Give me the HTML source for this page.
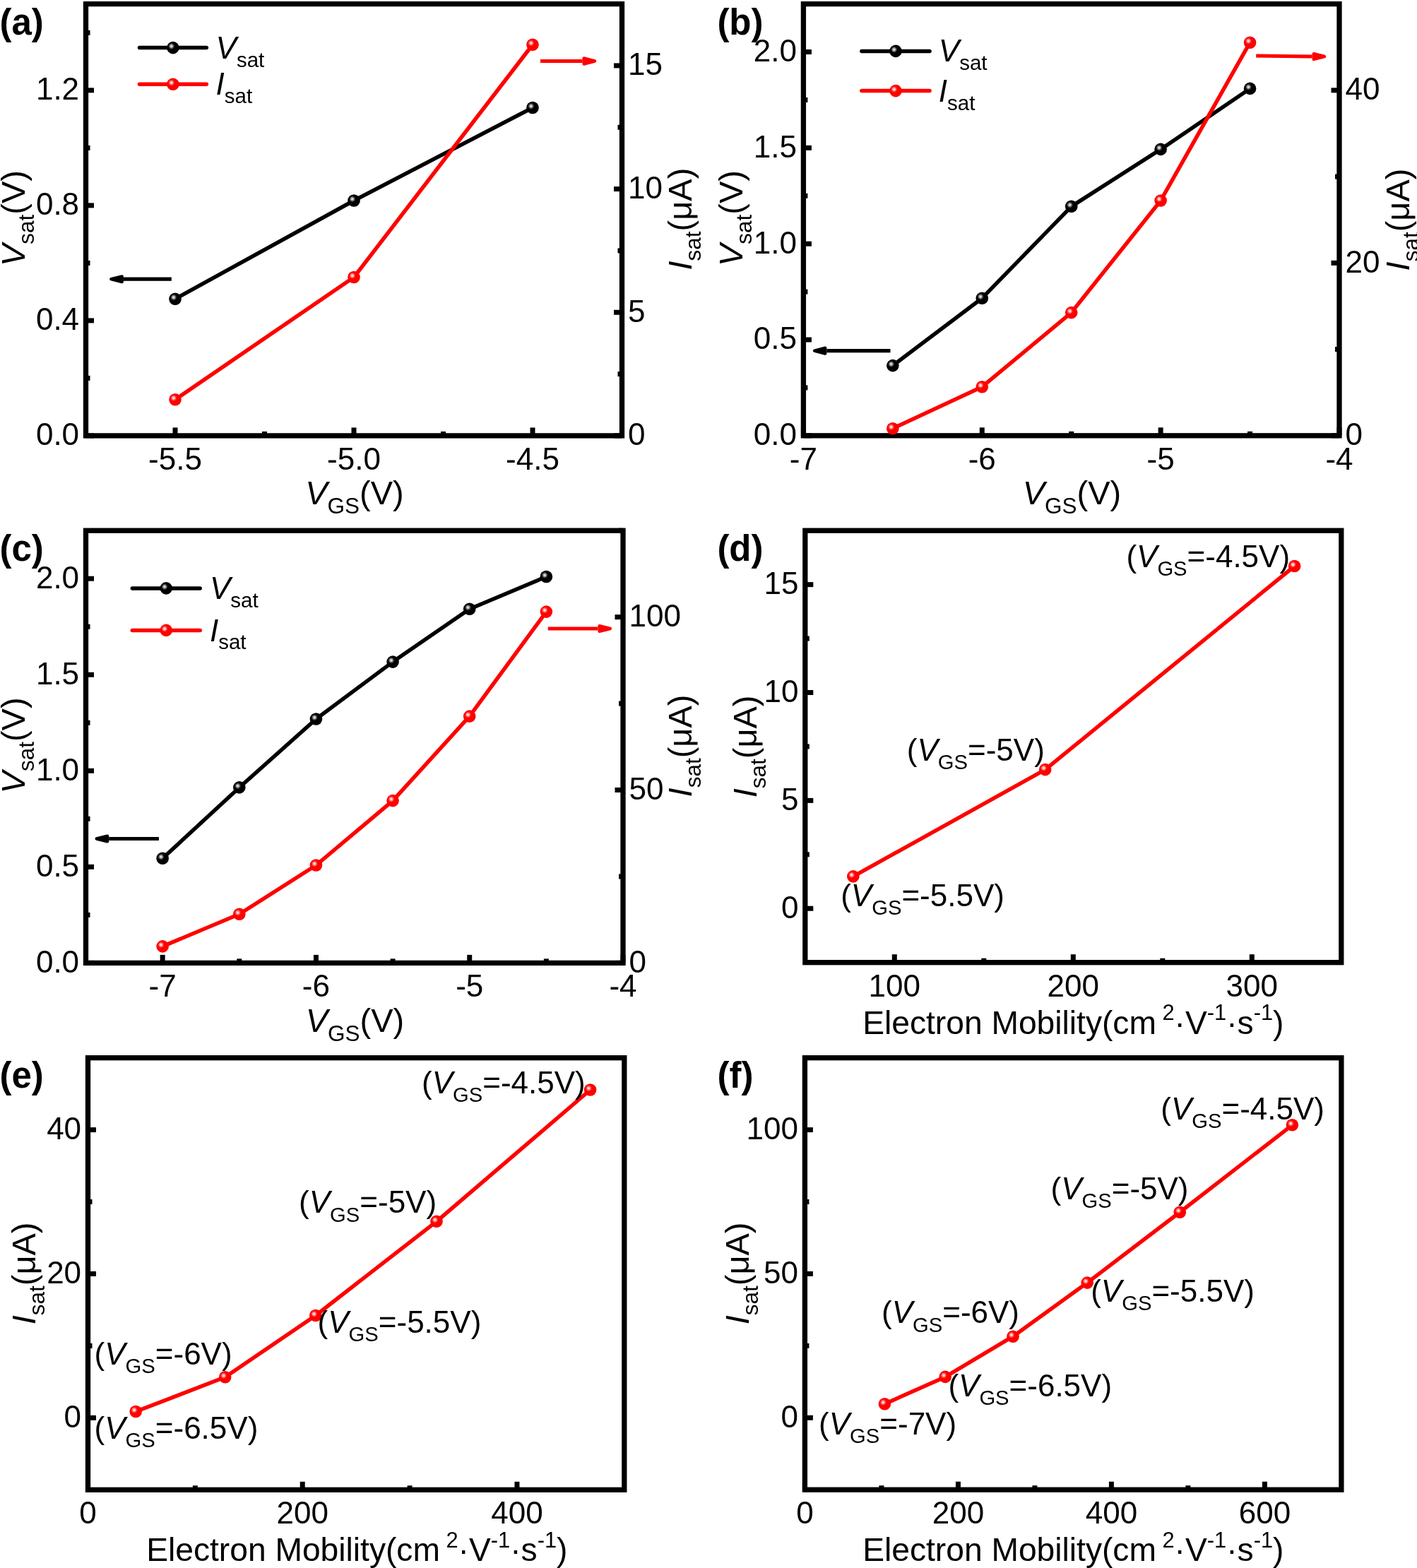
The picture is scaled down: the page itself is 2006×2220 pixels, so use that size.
<!DOCTYPE html><html><head><meta charset="utf-8"><title>Figure</title><style>html,body{margin:0;padding:0;background:#fff;}svg{display:block;}</style></head><body>
<svg width="2006" height="2220" viewBox="0 0 2006 2220" font-family="'Liberation Sans', Arial, sans-serif">
<defs>
<radialGradient id="hk"><stop offset="0" stop-color="#fafafa"/><stop offset="0.15" stop-color="#e0e0e0"/><stop offset="0.45" stop-color="#9a9a9a" stop-opacity="0.9"/><stop offset="0.75" stop-color="#444" stop-opacity="0.5"/><stop offset="1" stop-color="#000" stop-opacity="0"/></radialGradient>
<radialGradient id="hr"><stop offset="0" stop-color="#fff"/><stop offset="0.15" stop-color="#ffe4e4"/><stop offset="0.45" stop-color="#ff9a9a" stop-opacity="0.9"/><stop offset="0.75" stop-color="#ff4040" stop-opacity="0.5"/><stop offset="1" stop-color="#f00" stop-opacity="0"/></radialGradient>
</defs>
<rect width="2006" height="2220" fill="#fff"/>
<line x1="248" y1="616.9" x2="248" y2="605.4" stroke="#000" stroke-width="7.0"/>
<line x1="501" y1="616.9" x2="501" y2="605.4" stroke="#000" stroke-width="7.0"/>
<line x1="754" y1="616.9" x2="754" y2="605.4" stroke="#000" stroke-width="7.0"/>
<line x1="374.5" y1="616.9" x2="374.5" y2="610.9" stroke="#000" stroke-width="7.0"/>
<line x1="627.5" y1="616.9" x2="627.5" y2="610.9" stroke="#000" stroke-width="7.0"/>
<line x1="121.5" y1="616.9" x2="133" y2="616.9" stroke="#000" stroke-width="7.0"/>
<line x1="121.5" y1="453.89" x2="133" y2="453.89" stroke="#000" stroke-width="7.0"/>
<line x1="121.5" y1="290.87" x2="133" y2="290.87" stroke="#000" stroke-width="7.0"/>
<line x1="121.5" y1="127.86" x2="133" y2="127.86" stroke="#000" stroke-width="7.0"/>
<line x1="121.5" y1="535.39" x2="127.5" y2="535.39" stroke="#000" stroke-width="7.0"/>
<line x1="121.5" y1="372.38" x2="127.5" y2="372.38" stroke="#000" stroke-width="7.0"/>
<line x1="121.5" y1="209.37" x2="127.5" y2="209.37" stroke="#000" stroke-width="7.0"/>
<line x1="121.5" y1="46.35" x2="127.5" y2="46.35" stroke="#000" stroke-width="7.0"/>
<line x1="880.5" y1="616.9" x2="869" y2="616.9" stroke="#000" stroke-width="7.0"/>
<line x1="880.5" y1="442.24" x2="869" y2="442.24" stroke="#000" stroke-width="7.0"/>
<line x1="880.5" y1="267.59" x2="869" y2="267.59" stroke="#000" stroke-width="7.0"/>
<line x1="880.5" y1="92.93" x2="869" y2="92.93" stroke="#000" stroke-width="7.0"/>
<line x1="880.5" y1="529.57" x2="874.5" y2="529.57" stroke="#000" stroke-width="7.0"/>
<line x1="880.5" y1="354.91" x2="874.5" y2="354.91" stroke="#000" stroke-width="7.0"/>
<line x1="880.5" y1="180.26" x2="874.5" y2="180.26" stroke="#000" stroke-width="7.0"/>
<rect x="121.5" y="5.6" width="759" height="611.3" fill="none" stroke="#000" stroke-width="7.3"/>
<text x="112.1" y="630.4" font-size="44" text-anchor="end">0.0</text>
<text x="112.1" y="467.39" font-size="44" text-anchor="end">0.4</text>
<text x="112.1" y="304.37" font-size="44" text-anchor="end">0.8</text>
<text x="112.1" y="141.36" font-size="44" text-anchor="end">1.2</text>
<text x="889" y="630.4" font-size="44" text-anchor="start">0</text>
<text x="889" y="455.74" font-size="44" text-anchor="start">5</text>
<text x="889" y="281.09" font-size="44" text-anchor="start">10</text>
<text x="889" y="106.43" font-size="44" text-anchor="start">15</text>
<text x="248" y="664.9" font-size="44" text-anchor="middle">-5.5</text>
<text x="501" y="664.9" font-size="44" text-anchor="middle">-5.0</text>
<text x="754" y="664.9" font-size="44" text-anchor="middle">-4.5</text>
<polyline points="248,423.2 501,284 754,152.5" fill="none" stroke="#000" stroke-width="5.5" stroke-linejoin="round" stroke-linecap="round"/>
<circle cx="248" cy="423.2" r="8.8" fill="#000"/>
<circle cx="245.8" cy="421" r="5.2" fill="url(#hk)"/>
<circle cx="501" cy="284" r="8.8" fill="#000"/>
<circle cx="498.8" cy="281.8" r="5.2" fill="url(#hk)"/>
<circle cx="754" cy="152.5" r="8.8" fill="#000"/>
<circle cx="751.8" cy="150.3" r="5.2" fill="url(#hk)"/>
<polyline points="248,565.7 501,392.5 754,63.2" fill="none" stroke="#ff0000" stroke-width="5.5" stroke-linejoin="round" stroke-linecap="round"/>
<circle cx="248" cy="565.7" r="8.8" fill="#ff0000"/>
<circle cx="245.8" cy="563.5" r="5.2" fill="url(#hr)"/>
<circle cx="501" cy="392.5" r="8.8" fill="#ff0000"/>
<circle cx="498.8" cy="390.3" r="5.2" fill="url(#hr)"/>
<circle cx="754" cy="63.2" r="8.8" fill="#ff0000"/>
<circle cx="751.8" cy="61" r="5.2" fill="url(#hr)"/>
<line x1="197.5" y1="67.6" x2="292.3" y2="67.6" stroke="#000" stroke-width="5.5" stroke-linecap="round"/>
<circle cx="244.9" cy="67.6" r="8.8" fill="#000"/>
<circle cx="242.7" cy="65.4" r="5.2" fill="url(#hk)"/>
<text x="305.6" y="82.9" font-size="44" text-anchor="start"><tspan font-style="italic">V</tspan><tspan font-size="29.5" dy="11.8">sat</tspan><tspan dy="-11.8"></tspan></text>
<line x1="197.5" y1="119.3" x2="292.3" y2="119.3" stroke="#ff0000" stroke-width="5.5" stroke-linecap="round"/>
<circle cx="244.9" cy="119.3" r="8.8" fill="#ff0000"/>
<circle cx="242.7" cy="117.1" r="5.2" fill="url(#hr)"/>
<text x="305.6" y="134.2" font-size="44" text-anchor="start"><tspan font-style="italic">I</tspan><tspan font-size="29.5" dy="11.8">sat</tspan><tspan dy="-11.8"></tspan></text>
<line x1="242.8" y1="395.2" x2="174.9" y2="395.2" stroke="#000" stroke-width="5.2"/>
<polygon points="157.33,395.2 172.7,391.4 172.7,399" fill="#000" stroke="#000" stroke-width="4.4" stroke-linejoin="round"/>
<line x1="765" y1="86.5" x2="824.4" y2="86.5" stroke="#ff0000" stroke-width="5.2"/>
<polygon points="841.97,86.5 826.6,90.5 826.6,82.5" fill="#ff0000" stroke="#ff0000" stroke-width="4.4" stroke-linejoin="round"/>
<text x="502" y="714.4" font-size="47" text-anchor="middle"><tspan font-style="italic">V</tspan><tspan font-size="31.5" dy="13">GS</tspan><tspan dy="-13">(V)</tspan></text>
<text transform="translate(34.9,309) rotate(-90)" font-size="47" text-anchor="middle"><tspan font-style="italic">V</tspan><tspan font-size="31.5" dy="13">sat</tspan><tspan dy="-13">(V)</tspan></text>
<text transform="translate(978.9,310.1) rotate(-90)" font-size="47" text-anchor="middle"><tspan font-style="italic">I</tspan><tspan font-size="31.5" dy="13">sat</tspan><tspan dy="-13">(μA)</tspan></text>
<text x="-0.5" y="49.4" font-size="51" font-weight="bold">(a)</text>
<line x1="1137.4" y1="616.8" x2="1137.4" y2="605.3" stroke="#000" stroke-width="7.0"/>
<line x1="1390.27" y1="616.8" x2="1390.27" y2="605.3" stroke="#000" stroke-width="7.0"/>
<line x1="1643.13" y1="616.8" x2="1643.13" y2="605.3" stroke="#000" stroke-width="7.0"/>
<line x1="1896" y1="616.8" x2="1896" y2="605.3" stroke="#000" stroke-width="7.0"/>
<line x1="1263.83" y1="616.8" x2="1263.83" y2="610.8" stroke="#000" stroke-width="7.0"/>
<line x1="1516.7" y1="616.8" x2="1516.7" y2="610.8" stroke="#000" stroke-width="7.0"/>
<line x1="1769.57" y1="616.8" x2="1769.57" y2="610.8" stroke="#000" stroke-width="7.0"/>
<line x1="1137.4" y1="616.8" x2="1148.9" y2="616.8" stroke="#000" stroke-width="7.0"/>
<line x1="1137.4" y1="480.98" x2="1148.9" y2="480.98" stroke="#000" stroke-width="7.0"/>
<line x1="1137.4" y1="345.16" x2="1148.9" y2="345.16" stroke="#000" stroke-width="7.0"/>
<line x1="1137.4" y1="209.33" x2="1148.9" y2="209.33" stroke="#000" stroke-width="7.0"/>
<line x1="1137.4" y1="73.51" x2="1148.9" y2="73.51" stroke="#000" stroke-width="7.0"/>
<line x1="1137.4" y1="548.89" x2="1143.4" y2="548.89" stroke="#000" stroke-width="7.0"/>
<line x1="1137.4" y1="413.07" x2="1143.4" y2="413.07" stroke="#000" stroke-width="7.0"/>
<line x1="1137.4" y1="277.24" x2="1143.4" y2="277.24" stroke="#000" stroke-width="7.0"/>
<line x1="1137.4" y1="141.42" x2="1143.4" y2="141.42" stroke="#000" stroke-width="7.0"/>
<line x1="1896" y1="616.8" x2="1884.5" y2="616.8" stroke="#000" stroke-width="7.0"/>
<line x1="1896" y1="372.32" x2="1884.5" y2="372.32" stroke="#000" stroke-width="7.0"/>
<line x1="1896" y1="127.84" x2="1884.5" y2="127.84" stroke="#000" stroke-width="7.0"/>
<line x1="1896" y1="494.56" x2="1890" y2="494.56" stroke="#000" stroke-width="7.0"/>
<line x1="1896" y1="250.08" x2="1890" y2="250.08" stroke="#000" stroke-width="7.0"/>
<line x1="1896" y1="5.6" x2="1890" y2="5.6" stroke="#000" stroke-width="7.0"/>
<rect x="1137.4" y="5.6" width="758.6" height="611.2" fill="none" stroke="#000" stroke-width="7.3"/>
<text x="1128" y="630.3" font-size="44" text-anchor="end">0.0</text>
<text x="1128" y="494.48" font-size="44" text-anchor="end">0.5</text>
<text x="1128" y="358.66" font-size="44" text-anchor="end">1.0</text>
<text x="1128" y="222.83" font-size="44" text-anchor="end">1.5</text>
<text x="1128" y="87.01" font-size="44" text-anchor="end">2.0</text>
<text x="1904.5" y="630.3" font-size="44" text-anchor="start">0</text>
<text x="1904.5" y="385.82" font-size="44" text-anchor="start">20</text>
<text x="1904.5" y="141.34" font-size="44" text-anchor="start">40</text>
<text x="1137.4" y="664.8" font-size="44" text-anchor="middle">-7</text>
<text x="1390.27" y="664.8" font-size="44" text-anchor="middle">-6</text>
<text x="1643.13" y="664.8" font-size="44" text-anchor="middle">-5</text>
<text x="1896" y="664.8" font-size="44" text-anchor="middle">-4</text>
<polyline points="1263.83,517.6 1390.27,422.2 1516.7,292.3 1643.13,211.4 1769.57,125.4" fill="none" stroke="#000" stroke-width="5.5" stroke-linejoin="round" stroke-linecap="round"/>
<circle cx="1263.83" cy="517.6" r="8.8" fill="#000"/>
<circle cx="1261.63" cy="515.4" r="5.2" fill="url(#hk)"/>
<circle cx="1390.27" cy="422.2" r="8.8" fill="#000"/>
<circle cx="1388.07" cy="420" r="5.2" fill="url(#hk)"/>
<circle cx="1516.7" cy="292.3" r="8.8" fill="#000"/>
<circle cx="1514.5" cy="290.1" r="5.2" fill="url(#hk)"/>
<circle cx="1643.13" cy="211.4" r="8.8" fill="#000"/>
<circle cx="1640.93" cy="209.2" r="5.2" fill="url(#hk)"/>
<circle cx="1769.57" cy="125.4" r="8.8" fill="#000"/>
<circle cx="1767.37" cy="123.2" r="5.2" fill="url(#hk)"/>
<polyline points="1263.83,606.7 1390.27,547.7 1516.7,442.6 1643.13,284 1769.57,60.2" fill="none" stroke="#ff0000" stroke-width="5.5" stroke-linejoin="round" stroke-linecap="round"/>
<circle cx="1263.83" cy="606.7" r="8.8" fill="#ff0000"/>
<circle cx="1261.63" cy="604.5" r="5.2" fill="url(#hr)"/>
<circle cx="1390.27" cy="547.7" r="8.8" fill="#ff0000"/>
<circle cx="1388.07" cy="545.5" r="5.2" fill="url(#hr)"/>
<circle cx="1516.7" cy="442.6" r="8.8" fill="#ff0000"/>
<circle cx="1514.5" cy="440.4" r="5.2" fill="url(#hr)"/>
<circle cx="1643.13" cy="284" r="8.8" fill="#ff0000"/>
<circle cx="1640.93" cy="281.8" r="5.2" fill="url(#hr)"/>
<circle cx="1769.57" cy="60.2" r="8.8" fill="#ff0000"/>
<circle cx="1767.37" cy="58" r="5.2" fill="url(#hr)"/>
<line x1="1219.9" y1="72.4" x2="1316" y2="72.4" stroke="#000" stroke-width="5.5" stroke-linecap="round"/>
<circle cx="1267.95" cy="72.4" r="8.8" fill="#000"/>
<circle cx="1265.75" cy="70.2" r="5.2" fill="url(#hk)"/>
<text x="1328.8" y="87.3" font-size="44" text-anchor="start"><tspan font-style="italic">V</tspan><tspan font-size="29.5" dy="11.8">sat</tspan><tspan dy="-11.8"></tspan></text>
<line x1="1219.9" y1="128.6" x2="1316" y2="128.6" stroke="#ff0000" stroke-width="5.5" stroke-linecap="round"/>
<circle cx="1267.95" cy="128.6" r="8.8" fill="#ff0000"/>
<circle cx="1265.75" cy="126.4" r="5.2" fill="url(#hr)"/>
<text x="1328.8" y="143.9" font-size="44" text-anchor="start"><tspan font-style="italic">I</tspan><tspan font-size="29.5" dy="11.8">sat</tspan><tspan dy="-11.8"></tspan></text>
<line x1="1260.5" y1="496.6" x2="1170.4" y2="496.6" stroke="#000" stroke-width="5.2"/>
<polygon points="1153.13,496.6 1168.2,492.7 1168.2,500.5" fill="#000" stroke="#000" stroke-width="4.4" stroke-linejoin="round"/>
<line x1="1778.2" y1="79" x2="1857.6" y2="80" stroke="#ff0000" stroke-width="5.2"/>
<polygon points="1875.07,80 1859.8,83.9 1859.8,76.1" fill="#ff0000" stroke="#ff0000" stroke-width="4.4" stroke-linejoin="round"/>
<text x="1517.5" y="714.4" font-size="47" text-anchor="middle"><tspan font-style="italic">V</tspan><tspan font-size="31.5" dy="13">GS</tspan><tspan dy="-13">(V)</tspan></text>
<text transform="translate(1050.8,309) rotate(-90)" font-size="47" text-anchor="middle"><tspan font-style="italic">V</tspan><tspan font-size="31.5" dy="13">sat</tspan><tspan dy="-13">(V)</tspan></text>
<text transform="translate(1995,311) rotate(-90)" font-size="47" text-anchor="middle"><tspan font-style="italic">I</tspan><tspan font-size="31.5" dy="13">sat</tspan><tspan dy="-13">(μA)</tspan></text>
<text x="1015.4" y="48.7" font-size="51" font-weight="bold">(b)</text>
<line x1="230.14" y1="1363.4" x2="230.14" y2="1351.9" stroke="#000" stroke-width="7.0"/>
<line x1="447.43" y1="1363.4" x2="447.43" y2="1351.9" stroke="#000" stroke-width="7.0"/>
<line x1="664.71" y1="1363.4" x2="664.71" y2="1351.9" stroke="#000" stroke-width="7.0"/>
<line x1="882" y1="1363.4" x2="882" y2="1351.9" stroke="#000" stroke-width="7.0"/>
<line x1="338.79" y1="1363.4" x2="338.79" y2="1357.4" stroke="#000" stroke-width="7.0"/>
<line x1="556.07" y1="1363.4" x2="556.07" y2="1357.4" stroke="#000" stroke-width="7.0"/>
<line x1="773.36" y1="1363.4" x2="773.36" y2="1357.4" stroke="#000" stroke-width="7.0"/>
<line x1="121.5" y1="1363.4" x2="133" y2="1363.4" stroke="#000" stroke-width="7.0"/>
<line x1="121.5" y1="1227.36" x2="133" y2="1227.36" stroke="#000" stroke-width="7.0"/>
<line x1="121.5" y1="1091.31" x2="133" y2="1091.31" stroke="#000" stroke-width="7.0"/>
<line x1="121.5" y1="955.27" x2="133" y2="955.27" stroke="#000" stroke-width="7.0"/>
<line x1="121.5" y1="819.22" x2="133" y2="819.22" stroke="#000" stroke-width="7.0"/>
<line x1="121.5" y1="1295.38" x2="127.5" y2="1295.38" stroke="#000" stroke-width="7.0"/>
<line x1="121.5" y1="1159.33" x2="127.5" y2="1159.33" stroke="#000" stroke-width="7.0"/>
<line x1="121.5" y1="1023.29" x2="127.5" y2="1023.29" stroke="#000" stroke-width="7.0"/>
<line x1="121.5" y1="887.24" x2="127.5" y2="887.24" stroke="#000" stroke-width="7.0"/>
<line x1="882" y1="1363.4" x2="870.5" y2="1363.4" stroke="#000" stroke-width="7.0"/>
<line x1="882" y1="1118.52" x2="870.5" y2="1118.52" stroke="#000" stroke-width="7.0"/>
<line x1="882" y1="873.64" x2="870.5" y2="873.64" stroke="#000" stroke-width="7.0"/>
<line x1="882" y1="1240.96" x2="876" y2="1240.96" stroke="#000" stroke-width="7.0"/>
<line x1="882" y1="996.08" x2="876" y2="996.08" stroke="#000" stroke-width="7.0"/>
<line x1="882" y1="751.2" x2="876" y2="751.2" stroke="#000" stroke-width="7.0"/>
<rect x="121.5" y="751.2" width="760.5" height="612.2" fill="none" stroke="#000" stroke-width="7.3"/>
<text x="112.1" y="1376.9" font-size="44" text-anchor="end">0.0</text>
<text x="112.1" y="1240.86" font-size="44" text-anchor="end">0.5</text>
<text x="112.1" y="1104.81" font-size="44" text-anchor="end">1.0</text>
<text x="112.1" y="968.77" font-size="44" text-anchor="end">1.5</text>
<text x="112.1" y="832.72" font-size="44" text-anchor="end">2.0</text>
<text x="890.5" y="1376.9" font-size="44" text-anchor="start">0</text>
<text x="890.5" y="1132.02" font-size="44" text-anchor="start">50</text>
<text x="890.5" y="887.14" font-size="44" text-anchor="start">100</text>
<text x="230.14" y="1411.4" font-size="44" text-anchor="middle">-7</text>
<text x="447.43" y="1411.4" font-size="44" text-anchor="middle">-6</text>
<text x="664.71" y="1411.4" font-size="44" text-anchor="middle">-5</text>
<text x="882" y="1411.4" font-size="44" text-anchor="middle">-4</text>
<polyline points="230.14,1215.3 338.79,1114.9 447.43,1018 556.07,937.1 664.71,862.2 773.36,816.5" fill="none" stroke="#000" stroke-width="5.5" stroke-linejoin="round" stroke-linecap="round"/>
<circle cx="230.14" cy="1215.3" r="8.8" fill="#000"/>
<circle cx="227.94" cy="1213.1" r="5.2" fill="url(#hk)"/>
<circle cx="338.79" cy="1114.9" r="8.8" fill="#000"/>
<circle cx="336.59" cy="1112.7" r="5.2" fill="url(#hk)"/>
<circle cx="447.43" cy="1018" r="8.8" fill="#000"/>
<circle cx="445.23" cy="1015.8" r="5.2" fill="url(#hk)"/>
<circle cx="556.07" cy="937.1" r="8.8" fill="#000"/>
<circle cx="553.87" cy="934.9" r="5.2" fill="url(#hk)"/>
<circle cx="664.71" cy="862.2" r="8.8" fill="#000"/>
<circle cx="662.51" cy="860" r="5.2" fill="url(#hk)"/>
<circle cx="773.36" cy="816.5" r="8.8" fill="#000"/>
<circle cx="771.16" cy="814.3" r="5.2" fill="url(#hk)"/>
<polyline points="230.14,1339.9 338.79,1294.3 447.43,1225 556.07,1133.6 664.71,1014.1 773.36,866.1" fill="none" stroke="#ff0000" stroke-width="5.5" stroke-linejoin="round" stroke-linecap="round"/>
<circle cx="230.14" cy="1339.9" r="8.8" fill="#ff0000"/>
<circle cx="227.94" cy="1337.7" r="5.2" fill="url(#hr)"/>
<circle cx="338.79" cy="1294.3" r="8.8" fill="#ff0000"/>
<circle cx="336.59" cy="1292.1" r="5.2" fill="url(#hr)"/>
<circle cx="447.43" cy="1225" r="8.8" fill="#ff0000"/>
<circle cx="445.23" cy="1222.8" r="5.2" fill="url(#hr)"/>
<circle cx="556.07" cy="1133.6" r="8.8" fill="#ff0000"/>
<circle cx="553.87" cy="1131.4" r="5.2" fill="url(#hr)"/>
<circle cx="664.71" cy="1014.1" r="8.8" fill="#ff0000"/>
<circle cx="662.51" cy="1011.9" r="5.2" fill="url(#hr)"/>
<circle cx="773.36" cy="866.1" r="8.8" fill="#ff0000"/>
<circle cx="771.16" cy="863.9" r="5.2" fill="url(#hr)"/>
<line x1="187.3" y1="832.9" x2="283.2" y2="832.9" stroke="#000" stroke-width="5.5" stroke-linecap="round"/>
<circle cx="235.25" cy="832.9" r="8.8" fill="#000"/>
<circle cx="233.05" cy="830.7" r="5.2" fill="url(#hk)"/>
<text x="296.9" y="848.3" font-size="44" text-anchor="start"><tspan font-style="italic">V</tspan><tspan font-size="29.5" dy="11.8">sat</tspan><tspan dy="-11.8"></tspan></text>
<line x1="187.3" y1="892.4" x2="283.2" y2="892.4" stroke="#ff0000" stroke-width="5.5" stroke-linecap="round"/>
<circle cx="235.25" cy="892.4" r="8.8" fill="#ff0000"/>
<circle cx="233.05" cy="890.2" r="5.2" fill="url(#hr)"/>
<text x="296.9" y="907.6" font-size="44" text-anchor="start"><tspan font-style="italic">I</tspan><tspan font-size="29.5" dy="11.8">sat</tspan><tspan dy="-11.8"></tspan></text>
<line x1="224.9" y1="1187.5" x2="154.2" y2="1187.5" stroke="#000" stroke-width="5.2"/>
<polygon points="136.73,1187.5 152,1183.7 152,1191.3" fill="#000" stroke="#000" stroke-width="4.4" stroke-linejoin="round"/>
<line x1="775.8" y1="890" x2="846.4" y2="890" stroke="#ff0000" stroke-width="5.2"/>
<polygon points="863.87,890 848.6,893.8 848.6,886.2" fill="#ff0000" stroke="#ff0000" stroke-width="4.4" stroke-linejoin="round"/>
<text x="502.5" y="1460.9" font-size="47" text-anchor="middle"><tspan font-style="italic">V</tspan><tspan font-size="31.5" dy="13">GS</tspan><tspan dy="-13">(V)</tspan></text>
<text transform="translate(34.9,1055.4) rotate(-90)" font-size="47" text-anchor="middle"><tspan font-style="italic">V</tspan><tspan font-size="31.5" dy="13">sat</tspan><tspan dy="-13">(V)</tspan></text>
<text transform="translate(978.9,1056) rotate(-90)" font-size="47" text-anchor="middle"><tspan font-style="italic">I</tspan><tspan font-size="31.5" dy="13">sat</tspan><tspan dy="-13">(μA)</tspan></text>
<text x="-0.5" y="794.2" font-size="51" font-weight="bold">(c)</text>
<line x1="1266.3" y1="1362.7" x2="1266.3" y2="1351.2" stroke="#000" stroke-width="7.0"/>
<line x1="1519.3" y1="1362.7" x2="1519.3" y2="1351.2" stroke="#000" stroke-width="7.0"/>
<line x1="1772.3" y1="1362.7" x2="1772.3" y2="1351.2" stroke="#000" stroke-width="7.0"/>
<line x1="1392.8" y1="1362.7" x2="1392.8" y2="1356.7" stroke="#000" stroke-width="7.0"/>
<line x1="1645.8" y1="1362.7" x2="1645.8" y2="1356.7" stroke="#000" stroke-width="7.0"/>
<line x1="1139.8" y1="1286.26" x2="1151.3" y2="1286.26" stroke="#000" stroke-width="7.0"/>
<line x1="1139.8" y1="1133.39" x2="1151.3" y2="1133.39" stroke="#000" stroke-width="7.0"/>
<line x1="1139.8" y1="980.51" x2="1151.3" y2="980.51" stroke="#000" stroke-width="7.0"/>
<line x1="1139.8" y1="827.64" x2="1151.3" y2="827.64" stroke="#000" stroke-width="7.0"/>
<line x1="1139.8" y1="1209.83" x2="1145.8" y2="1209.83" stroke="#000" stroke-width="7.0"/>
<line x1="1139.8" y1="1056.95" x2="1145.8" y2="1056.95" stroke="#000" stroke-width="7.0"/>
<line x1="1139.8" y1="904.08" x2="1145.8" y2="904.08" stroke="#000" stroke-width="7.0"/>
<rect x="1139.8" y="751.2" width="759" height="611.5" fill="none" stroke="#000" stroke-width="7.3"/>
<text x="1130.4" y="1299.76" font-size="44" text-anchor="end">0</text>
<text x="1130.4" y="1146.89" font-size="44" text-anchor="end">5</text>
<text x="1130.4" y="994.01" font-size="44" text-anchor="end">10</text>
<text x="1130.4" y="841.14" font-size="44" text-anchor="end">15</text>
<text x="1266.3" y="1410.7" font-size="44" text-anchor="middle">100</text>
<text x="1519.3" y="1410.7" font-size="44" text-anchor="middle">200</text>
<text x="1772.3" y="1410.7" font-size="44" text-anchor="middle">300</text>
<polyline points="1207.8,1240.9 1479.7,1089.6 1832.6,801.5" fill="none" stroke="#ff0000" stroke-width="5.5" stroke-linejoin="round" stroke-linecap="round"/>
<circle cx="1207.8" cy="1240.9" r="8.8" fill="#ff0000"/>
<circle cx="1205.6" cy="1238.7" r="5.2" fill="url(#hr)"/>
<circle cx="1479.7" cy="1089.6" r="8.8" fill="#ff0000"/>
<circle cx="1477.5" cy="1087.4" r="5.2" fill="url(#hr)"/>
<circle cx="1832.6" cy="801.5" r="8.8" fill="#ff0000"/>
<circle cx="1830.4" cy="799.3" r="5.2" fill="url(#hr)"/>
<text x="1594.4" y="803" font-size="44" text-anchor="start"><tspan>(</tspan><tspan font-style="italic">V</tspan><tspan font-size="29.2" dy="12.4">GS</tspan><tspan dy="-12.4">=-4.5V)</tspan></text>
<text x="1283.8" y="1076.6" font-size="44" text-anchor="start"><tspan>(</tspan><tspan font-style="italic">V</tspan><tspan font-size="29.2" dy="12.4">GS</tspan><tspan dy="-12.4">=-5V)</tspan></text>
<text x="1190.2" y="1283" font-size="44" text-anchor="start"><tspan>(</tspan><tspan font-style="italic">V</tspan><tspan font-size="29.2" dy="12.4">GS</tspan><tspan dy="-12.4">=-5.5V)</tspan></text>
<text x="1519.3" y="1464.1" font-size="46.2" text-anchor="middle" xml:space="preserve">Electron Mobility(cm<tspan font-size="30.8" dy="-19.8"> 2</tspan><tspan dy="19.8">·V</tspan><tspan font-size="30.8" dy="-19.8">-1</tspan><tspan dy="19.8">·s</tspan><tspan font-size="30.8" dy="-19.8">-1</tspan><tspan dy="19.8">)</tspan></text>
<text transform="translate(1071.4,1056.9) rotate(-90)" font-size="47" text-anchor="middle"><tspan font-style="italic">I</tspan><tspan font-size="31.5" dy="13">sat</tspan><tspan dy="-13">(μA)</tspan></text>
<text x="1015.4" y="794.2" font-size="51" font-weight="bold">(d)</text>
<line x1="124.5" y1="2109.3" x2="124.5" y2="2097.8" stroke="#000" stroke-width="7.0"/>
<line x1="428.22" y1="2109.3" x2="428.22" y2="2097.8" stroke="#000" stroke-width="7.0"/>
<line x1="731.94" y1="2109.3" x2="731.94" y2="2097.8" stroke="#000" stroke-width="7.0"/>
<line x1="276.36" y1="2109.3" x2="276.36" y2="2103.3" stroke="#000" stroke-width="7.0"/>
<line x1="580.08" y1="2109.3" x2="580.08" y2="2103.3" stroke="#000" stroke-width="7.0"/>
<line x1="124.5" y1="2007.37" x2="136" y2="2007.37" stroke="#000" stroke-width="7.0"/>
<line x1="124.5" y1="1803.5" x2="136" y2="1803.5" stroke="#000" stroke-width="7.0"/>
<line x1="124.5" y1="1599.63" x2="136" y2="1599.63" stroke="#000" stroke-width="7.0"/>
<line x1="124.5" y1="1905.43" x2="130.5" y2="1905.43" stroke="#000" stroke-width="7.0"/>
<line x1="124.5" y1="1701.57" x2="130.5" y2="1701.57" stroke="#000" stroke-width="7.0"/>
<rect x="124.5" y="1497.7" width="759.3" height="611.6" fill="none" stroke="#000" stroke-width="7.3"/>
<text x="115.1" y="2020.87" font-size="44" text-anchor="end">0</text>
<text x="115.1" y="1817" font-size="44" text-anchor="end">20</text>
<text x="115.1" y="1613.13" font-size="44" text-anchor="end">40</text>
<text x="124.5" y="2157.3" font-size="44" text-anchor="middle">0</text>
<text x="428.22" y="2157.3" font-size="44" text-anchor="middle">200</text>
<text x="731.94" y="2157.3" font-size="44" text-anchor="middle">400</text>
<polyline points="192.2,1998.5 318.7,1949.8 446.8,1862.5 618,1729.3 835.6,1543" fill="none" stroke="#ff0000" stroke-width="5.5" stroke-linejoin="round" stroke-linecap="round"/>
<circle cx="192.2" cy="1998.5" r="8.8" fill="#ff0000"/>
<circle cx="190" cy="1996.3" r="5.2" fill="url(#hr)"/>
<circle cx="318.7" cy="1949.8" r="8.8" fill="#ff0000"/>
<circle cx="316.5" cy="1947.6" r="5.2" fill="url(#hr)"/>
<circle cx="446.8" cy="1862.5" r="8.8" fill="#ff0000"/>
<circle cx="444.6" cy="1860.3" r="5.2" fill="url(#hr)"/>
<circle cx="618" cy="1729.3" r="8.8" fill="#ff0000"/>
<circle cx="615.8" cy="1727.1" r="5.2" fill="url(#hr)"/>
<circle cx="835.6" cy="1543" r="8.8" fill="#ff0000"/>
<circle cx="833.4" cy="1540.8" r="5.2" fill="url(#hr)"/>
<text x="597" y="1548" font-size="44" text-anchor="start"><tspan>(</tspan><tspan font-style="italic">V</tspan><tspan font-size="29.2" dy="12.4">GS</tspan><tspan dy="-12.4">=-4.5V)</tspan></text>
<text x="423.1" y="1717.2" font-size="44" text-anchor="start"><tspan>(</tspan><tspan font-style="italic">V</tspan><tspan font-size="29.2" dy="12.4">GS</tspan><tspan dy="-12.4">=-5V)</tspan></text>
<text x="449.6" y="1886.9" font-size="44" text-anchor="start"><tspan>(</tspan><tspan font-style="italic">V</tspan><tspan font-size="29.2" dy="12.4">GS</tspan><tspan dy="-12.4">=-5.5V)</tspan></text>
<text x="133.6" y="1931.8" font-size="44" text-anchor="start"><tspan>(</tspan><tspan font-style="italic">V</tspan><tspan font-size="29.2" dy="12.4">GS</tspan><tspan dy="-12.4">=-6V)</tspan></text>
<text x="133.6" y="2036.8" font-size="44" text-anchor="start"><tspan>(</tspan><tspan font-style="italic">V</tspan><tspan font-size="29.2" dy="12.4">GS</tspan><tspan dy="-12.4">=-6.5V)</tspan></text>
<text x="505.3" y="2210.3" font-size="46.2" text-anchor="middle" xml:space="preserve">Electron Mobility(cm<tspan font-size="30.8" dy="-19.8"> 2</tspan><tspan dy="19.8">·V</tspan><tspan font-size="30.8" dy="-19.8">-1</tspan><tspan dy="19.8">·s</tspan><tspan font-size="30.8" dy="-19.8">-1</tspan><tspan dy="19.8">)</tspan></text>
<text transform="translate(49.6,1802.9) rotate(-90)" font-size="47" text-anchor="middle"><tspan font-style="italic">I</tspan><tspan font-size="31.5" dy="13">sat</tspan><tspan dy="-13">(μA)</tspan></text>
<text x="-0.5" y="1540.4" font-size="51" font-weight="bold">(e)</text>
<line x1="1139.4" y1="2109.2" x2="1139.4" y2="2097.7" stroke="#000" stroke-width="7.0"/>
<line x1="1356.4" y1="2109.2" x2="1356.4" y2="2097.7" stroke="#000" stroke-width="7.0"/>
<line x1="1573.4" y1="2109.2" x2="1573.4" y2="2097.7" stroke="#000" stroke-width="7.0"/>
<line x1="1790.4" y1="2109.2" x2="1790.4" y2="2097.7" stroke="#000" stroke-width="7.0"/>
<line x1="1247.9" y1="2109.2" x2="1247.9" y2="2103.2" stroke="#000" stroke-width="7.0"/>
<line x1="1464.9" y1="2109.2" x2="1464.9" y2="2103.2" stroke="#000" stroke-width="7.0"/>
<line x1="1681.9" y1="2109.2" x2="1681.9" y2="2103.2" stroke="#000" stroke-width="7.0"/>
<line x1="1139.4" y1="2007.28" x2="1150.9" y2="2007.28" stroke="#000" stroke-width="7.0"/>
<line x1="1139.4" y1="1803.45" x2="1150.9" y2="1803.45" stroke="#000" stroke-width="7.0"/>
<line x1="1139.4" y1="1599.62" x2="1150.9" y2="1599.62" stroke="#000" stroke-width="7.0"/>
<line x1="1139.4" y1="1905.37" x2="1145.4" y2="1905.37" stroke="#000" stroke-width="7.0"/>
<line x1="1139.4" y1="1701.53" x2="1145.4" y2="1701.53" stroke="#000" stroke-width="7.0"/>
<rect x="1139.4" y="1497.7" width="759.5" height="611.5" fill="none" stroke="#000" stroke-width="7.3"/>
<text x="1130" y="2020.78" font-size="44" text-anchor="end">0</text>
<text x="1130" y="1816.95" font-size="44" text-anchor="end">50</text>
<text x="1130" y="1613.12" font-size="44" text-anchor="end">100</text>
<text x="1139.4" y="2157.2" font-size="44" text-anchor="middle">0</text>
<text x="1356.4" y="2157.2" font-size="44" text-anchor="middle">200</text>
<text x="1573.4" y="2157.2" font-size="44" text-anchor="middle">400</text>
<text x="1790.4" y="2157.2" font-size="44" text-anchor="middle">600</text>
<polyline points="1252.4,1987.7 1338.2,1949.4 1434,1892.2 1539.2,1816.1 1670.3,1716.2 1829.4,1592.8" fill="none" stroke="#ff0000" stroke-width="5.5" stroke-linejoin="round" stroke-linecap="round"/>
<circle cx="1252.4" cy="1987.7" r="8.8" fill="#ff0000"/>
<circle cx="1250.2" cy="1985.5" r="5.2" fill="url(#hr)"/>
<circle cx="1338.2" cy="1949.4" r="8.8" fill="#ff0000"/>
<circle cx="1336" cy="1947.2" r="5.2" fill="url(#hr)"/>
<circle cx="1434" cy="1892.2" r="8.8" fill="#ff0000"/>
<circle cx="1431.8" cy="1890" r="5.2" fill="url(#hr)"/>
<circle cx="1539.2" cy="1816.1" r="8.8" fill="#ff0000"/>
<circle cx="1537" cy="1813.9" r="5.2" fill="url(#hr)"/>
<circle cx="1670.3" cy="1716.2" r="8.8" fill="#ff0000"/>
<circle cx="1668.1" cy="1714" r="5.2" fill="url(#hr)"/>
<circle cx="1829.4" cy="1592.8" r="8.8" fill="#ff0000"/>
<circle cx="1827.2" cy="1590.6" r="5.2" fill="url(#hr)"/>
<text x="1643.3" y="1584.9" font-size="44" text-anchor="start"><tspan>(</tspan><tspan font-style="italic">V</tspan><tspan font-size="29.2" dy="12.4">GS</tspan><tspan dy="-12.4">=-4.5V)</tspan></text>
<text x="1487.5" y="1697.7" font-size="44" text-anchor="start"><tspan>(</tspan><tspan font-style="italic">V</tspan><tspan font-size="29.2" dy="12.4">GS</tspan><tspan dy="-12.4">=-5V)</tspan></text>
<text x="1544.2" y="1843" font-size="44" text-anchor="start"><tspan>(</tspan><tspan font-style="italic">V</tspan><tspan font-size="29.2" dy="12.4">GS</tspan><tspan dy="-12.4">=-5.5V)</tspan></text>
<text x="1248" y="1873.3" font-size="44" text-anchor="start"><tspan>(</tspan><tspan font-style="italic">V</tspan><tspan font-size="29.2" dy="12.4">GS</tspan><tspan dy="-12.4">=-6V)</tspan></text>
<text x="1342.4" y="1976.8" font-size="44" text-anchor="start"><tspan>(</tspan><tspan font-style="italic">V</tspan><tspan font-size="29.2" dy="12.4">GS</tspan><tspan dy="-12.4">=-6.5V)</tspan></text>
<text x="1159.1" y="2030.8" font-size="44" text-anchor="start"><tspan>(</tspan><tspan font-style="italic">V</tspan><tspan font-size="29.2" dy="12.4">GS</tspan><tspan dy="-12.4">=-7V)</tspan></text>
<text x="1519.3" y="2210.3" font-size="46.2" text-anchor="middle" xml:space="preserve">Electron Mobility(cm<tspan font-size="30.8" dy="-19.8"> 2</tspan><tspan dy="19.8">·V</tspan><tspan font-size="30.8" dy="-19.8">-1</tspan><tspan dy="19.8">·s</tspan><tspan font-size="30.8" dy="-19.8">-1</tspan><tspan dy="19.8">)</tspan></text>
<text transform="translate(1059.6,1802.9) rotate(-90)" font-size="47" text-anchor="middle"><tspan font-style="italic">I</tspan><tspan font-size="31.5" dy="13">sat</tspan><tspan dy="-13">(μA)</tspan></text>
<text x="1015.6" y="1540.4" font-size="51" font-weight="bold">(f)</text>
</svg></body></html>
